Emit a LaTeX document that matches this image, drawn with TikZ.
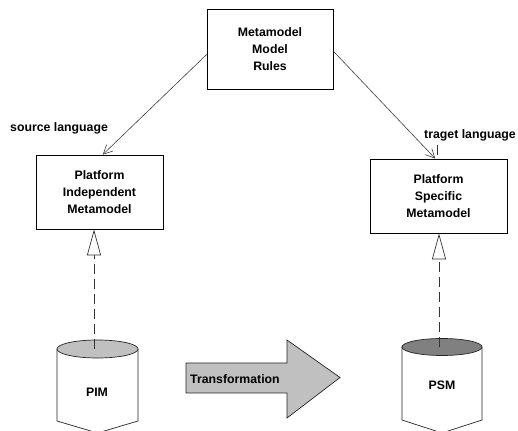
\documentclass[tikz,border=0pt]{standalone}
\usepackage{fontspec}
\setmainfont{Liberation Sans}
\usetikzlibrary{arrows.meta}
\definecolor{lightfill}{HTML}{C0C0C0}
\definecolor{darkfill}{HTML}{808080}
\begin{document}
\begin{tikzpicture}[x=1pt,y=1pt,
  box/.style={draw=black, line width=0.8pt, align=center, inner sep=0pt,
    font=\bfseries\fontsize{12.3}{17}\selectfont},
  lbl/.style={font=\bfseries\fontsize{12.3}{14}\selectfont, inner sep=0pt},
  assoc/.style={draw=black!75, line width=0.6pt, -{Straight Barb[length=9pt,width=9pt]}},
  realize/.style={draw=black!80, line width=0.7pt, dash pattern=on 10pt off 5pt,
    -{Triangle[open,length=26pt,width=14pt,fill=white]}},
  cyl/.style={draw=black!85, line width=0.7pt},
]
\clip (0,0) rectangle (518,430);
\fill[white] (0,0) rectangle (518,430);

% metamodel boxes
\node[box, minimum width=126pt, minimum height=80pt] (rules) at (270,381) {Metamodel\\Model\\Rules};
\node[box, minimum width=127pt, minimum height=74pt] (pim) at (99.5,238) {Platform\\Independent\\Metamodel};
\node[box, minimum width=137pt, minimum height=74pt] (psm) at (438.5,234) {Platform\\Specific\\Metamodel};

% language associations
\draw[assoc] (rules.185) -- (pim.85);
\draw[assoc] (rules.358) -- (psm.95);
\node[lbl, anchor=west] (srclbl) at (10,302) {source language};
\node[lbl, anchor=east] (tgtlbl) at (516,295) {traget language};
\draw[black!80, line width=0.6pt] ([xshift=-1.5pt,yshift=4pt]psm.north) -- ++(0,10);

% PIM store
\draw[cyl, fill=white] (57,81) -- (57,9) -- (97.5,-3) -- (138,9) -- (138,81);
\draw[cyl, fill=lightfill] (97.5,81) ellipse [x radius=40.5, y radius=9];
\coordinate (pimtop) at (94,81);
\node[lbl] (pimdb) at (97,38) {PIM};

% PSM store
\draw[cyl, fill=white] (402,83) -- (402,10) -- (442,-3) -- (482,10) -- (482,83);
\draw[cyl, fill=darkfill] (442,83) ellipse [x radius=40, y radius=8.5];
\coordinate (psmtop) at (439,83);
\node[lbl] (psmdb) at (442,45) {PSM};

% realizations
\draw[realize] (pimtop) -- (pimtop |- pim.south);
\draw[realize] (psmtop) -- (psmtop |- psm.south);

% transformation arrow
\draw[draw=black!85, line width=0.7pt, fill=lightfill]
  (186,67) -- (287,67) -- (287,90) -- (340,52.5) -- (287,12) -- (287,37) -- (186,37) -- cycle;
\node[lbl, anchor=west] (transf) at (190,51) {Transformation};
\end{tikzpicture}
\end{document}
